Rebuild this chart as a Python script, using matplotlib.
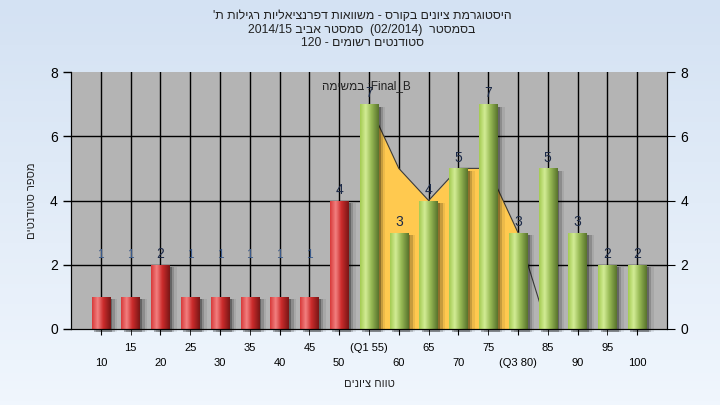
import numpy as np
import matplotlib
matplotlib.use("Agg")
import matplotlib.pyplot as plt
from matplotlib.colors import LinearSegmentedColormap

plt.rcParams['font.family'] = ['Liberation Sans', 'DejaVu Sans']

# data
scores = [10, 15, 20, 25, 30, 35, 40, 45, 50, 55, 60, 65, 70, 75, 80, 85, 90, 95, 100]
counts = [1, 1, 2, 1, 1, 1, 1, 1, 4, 7, 3, 4, 5, 7, 3, 5, 3, 2, 2]
tick_labels = ['10', '15', '20', '25', '30', '35', '40', '45', '50', '(Q1 55)',
               '60', '65', '70', '75', '(Q3 80)', '85', '90', '95', '100']
pass_score = 55
area_scores = [55, 60, 65, 70, 75, 80, 85]
area_vals = [7, 5, 4, 5, 5, 3, 0]
q1, q3 = 55, 80


def heb(s):
    # matplotlib has no bidi: reverse hebrew words so they show right-to-left
    return s[::-1]


title_lines = [
    "'" + "ת " + heb("רגילות") + " " + heb("דפרנציאליות") + " " + heb("משוואות") + " - "
    + heb("בקורס") + " " + heb("ציונים") + " " + heb("היסטוגרמת"),
    "2014/15 " + heb("אביב") + " " + heb("סמסטר") + "  (02/2014)  " + heb("בסמסטר"),
    "120 - " + heb("רשומים") + " " + heb("סטודנטים"),
]
xlabel = heb("ציונים") + " " + heb("טווח")
ylabel = heb("סטודנטים") + " " + heb("מספר")
note = heb("במשימה") + " :Final_B"

pos = np.arange(len(scores))
idx = {s: i for i, s in enumerate(scores)}

fig = plt.figure(figsize=(7.2, 4.05), dpi=100)

# light blue background gradient
bg = fig.add_axes([0, 0, 1, 1], zorder=-10)
bgcmap = LinearSegmentedColormap.from_list('bg', ['#f0f6fd', '#d4e2f3'])
bg.imshow(np.linspace(0, 1, 100).reshape(-1, 1), cmap=bgcmap, aspect='auto',
          extent=[0, 1, 0, 1], origin='lower')
bg.axis('off')

ax = fig.add_axes([71 / 720, 1 - 329 / 405, 596 / 720, 257 / 405])
ax.set_facecolor('#b4b4b4')

# grid
for i in pos:
    ax.axvline(i, color='black', lw=1, zorder=0)
for y in [2, 4, 6]:
    ax.axhline(y, color='black', lw=1, zorder=0)

# quartile area
ax_x = [idx[s] for s in area_scores]
inside = [q1 <= s <= q3 for s in area_scores]
ax.fill_between(ax_x, 0, area_vals, where=inside, color='#ffc94f', zorder=1, lw=0)
ax.plot(ax_x, area_vals, color='#3a3a3a', lw=0.8, zorder=1.2)

green = LinearSegmentedColormap.from_list('g', [(0, '#a4cb52'), (0.3, '#d2ec95'),
                                                (0.6, '#98ba55'), (1, '#58732c')])
red = LinearSegmentedColormap.from_list('r', [(0, '#d83a3a'), (0.3, '#f28080'),
                                              (0.6, '#cc2c2c'), (1, '#7a1616')])
w = 0.62
# shadows
for off, a in [(0.08, 0.28), (0.16, 0.16), (0.24, 0.07)]:
    ax.bar(pos + off, counts, width=w, bottom=-0.08, color='black', alpha=a,
           zorder=1.5, lw=0, clip_on=False)

bars = ax.bar(pos, counts, width=w, color='#99bb55', zorder=2, lw=0)
grad = np.linspace(0, 1, 64).reshape(1, -1)
for b, s in zip(bars, scores):
    cm = green if s >= pass_score else red
    im = ax.imshow(grad, cmap=cm, aspect='auto', zorder=2.1,
                   extent=[b.get_x(), b.get_x() + b.get_width(), 0, b.get_height()])
    im.set_clip_path(b)

# value labels; the small counts sit no lower than the level-2 row
for i, v in zip(pos, counts):
    if v < 2:
        ax.text(i, 2 + 0.12, str(v), ha='center', va='bottom', fontsize=8.5,
                color='#3a5a8a', zorder=4)
    else:
        ax.text(i, v + 0.12, str(v), ha='center', va='bottom', fontsize=10,
                color='#1c2a48', zorder=4)

ax.text(0.495, 0.945, note, transform=ax.transAxes, ha='center', va='center',
        fontsize=8.5, color='#222222', zorder=5)

ax.set_xlim(-1, len(scores))
ax.set_ylim(0, 8)
ax.set_yticks([0, 2, 4, 6, 8])
ax.tick_params(axis='y', direction='out', length=6, labelsize=10, width=1)

# staggered x labels: even positions low row, odd positions high row
ax.set_xticks(pos[::2])
ax.set_xticklabels(tick_labels[::2])
ax.set_xticks(pos[1::2], minor=True)
ax.set_xticklabels(tick_labels[1::2], minor=True)
ax.tick_params(axis='x', which='major', length=4, pad=17, labelsize=8)
ax.tick_params(axis='x', which='minor', length=4, pad=6, labelsize=8)
for sp in ax.spines.values():
    sp.set_color('black')
ax.spines['top'].set_visible(False)

ax2 = ax.twinx()
ax2.set_ylim(0, 8)
ax2.set_yticks([0, 2, 4, 6, 8])
ax2.tick_params(axis='y', direction='out', length=6, labelsize=10)
ax2.spines['top'].set_visible(False)

ax.set_xlabel(xlabel, fontsize=8, labelpad=8, color='#222222')
ax.set_ylabel(ylabel, fontsize=8, labelpad=9, color='#222222')

for k, line in enumerate(title_lines):
    fig.text(0.503, 1 - (16 + 13.5 * k) / 405, line, ha='center', va='center',
             fontsize=8.8, color='#222222')

fig.savefig('out.png', dpi=100)
